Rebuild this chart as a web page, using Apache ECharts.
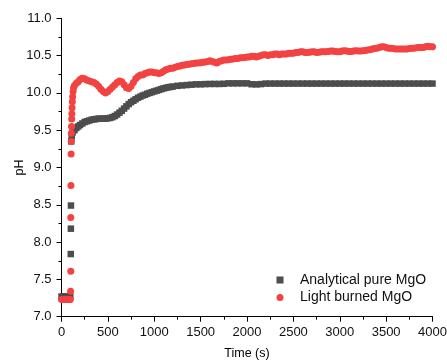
<!DOCTYPE html>
<html><head><meta charset="utf-8">
<script src="https://cdn.jsdelivr.net/npm/echarts@6/dist/echarts.min.js"></script>
<style>html,body{margin:0;padding:0;background:#fff}#c{width:447px;height:360px}</style>
</head><body><div id="c"></div>
<script>
const xTicks = [0,500,1000,1500,2000,2500,3000,3500,4000];
const yTicks = [7.0,7.5,8.0,8.5,9.0,9.5,10.0,10.5,11.0];
const seriesNames = ['Analytical pure MgO','Light burned MgO'];

const pureTime = [0,20,40,60,80,95,100,101,102,105,110,120,140,160,180,200,225,250,275,300,325,350,375,400,425,450,475,500,525,550,575,600,625,650,675,700,725,750,775,800,825,850,875,900,925,950,975,1000,1025,1050,1075,1100,1125,1150,1175,1200,1250,1300,1350,1400,1450,1500,1550,1600,1650,1700,1750,1800,1850,1900,1950,2000,2050,2100,2150,2200,2250,2300,2350,2400,2450,2500,2550,2600,2650,2700,2750,2800,2850,2900,2950,3000,3050,3100,3150,3200,3250,3300,3350,3400,3450,3500,3550,3600,3650,3700,3750,3800,3850,3900,3950,4000];
const pureVals = [7.27,7.27,7.27,7.27,7.27,7.27,7.84,8.18,8.49,9.35,9.42,9.47,9.50,9.53,9.55,9.57,9.59,9.61,9.62,9.63,9.64,9.645,9.65,9.655,9.655,9.655,9.655,9.66,9.665,9.675,9.69,9.71,9.735,9.76,9.79,9.82,9.85,9.875,9.895,9.915,9.935,9.95,9.965,9.975,9.99,10.0,10.01,10.02,10.03,10.04,10.05,10.06,10.068,10.075,10.08,10.085,10.095,10.10,10.105,10.11,10.115,10.115,10.118,10.12,10.12,10.12,10.122,10.128,10.128,10.128,10.128,10.128,10.116,10.114,10.118,10.125,10.125,10.125,10.125,10.125,10.125,10.125,10.125,10.125,10.125,10.125,10.125,10.125,10.125,10.125,10.125,10.125,10.125,10.125,10.125,10.125,10.125,10.125,10.125,10.125,10.125,10.125,10.125,10.125,10.125,10.125,10.125,10.125,10.125,10.125,10.125,10.125];

const burnedTime = [0,20,40,60,80,95,98,100,100,102,104,105,106,108,110,112,114,117,120,125,130,140,160,180,200,225,250,275,300,325,350,375,400,425,450,475,500,525,550,575,600,625,650,675,700,725,750,775,800,825,850,875,900,925,950,975,1000,1025,1050,1075,1100,1125,1150,1175,1200,1225,1250,1275,1300,1325,1350,1375,1400,1425,1450,1475,1500,1525,1550,1575,1600,1625,1650,1675,1700,1725,1750,1775,1800,1825,1850,1875,1900,1925,1950,1975,2000,2025,2050,2075,2100,2125,2150,2175,2200,2225,2250,2275,2300,2325,2350,2375,2400,2425,2450,2475,2500,2525,2550,2575,2600,2625,2650,2675,2700,2725,2750,2775,2800,2825,2850,2875,2900,2925,2950,2975,3000,3025,3050,3075,3100,3125,3150,3175,3200,3225,3250,3275,3300,3325,3350,3375,3400,3425,3450,3475,3500,3525,3550,3575,3600,3625,3650,3675,3700,3725,3750,3775,3800,3825,3850,3875,3900,3925,3950,3975,4000];
const burnedVals = [7.23,7.23,7.23,7.23,7.23,7.23,7.34,7.61,8.33,8.76,9.18,9.35,9.46,9.55,9.65,9.72,9.80,9.88,9.95,10.02,10.07,10.10,10.13,10.15,10.18,10.195,10.19,10.17,10.16,10.15,10.14,10.12,10.09,10.05,10.02,10.0,10.02,10.05,10.08,10.11,10.14,10.16,10.15,10.11,10.07,10.06,10.09,10.14,10.19,10.22,10.24,10.24,10.26,10.27,10.28,10.28,10.27,10.27,10.26,10.27,10.29,10.31,10.32,10.33,10.33,10.345,10.355,10.36,10.37,10.375,10.38,10.385,10.39,10.395,10.40,10.40,10.405,10.41,10.415,10.42,10.43,10.42,10.41,10.40,10.42,10.43,10.44,10.44,10.445,10.45,10.455,10.46,10.46,10.47,10.47,10.475,10.48,10.48,10.49,10.49,10.48,10.49,10.50,10.51,10.51,10.50,10.51,10.51,10.52,10.52,10.51,10.52,10.52,10.52,10.53,10.53,10.53,10.54,10.54,10.55,10.55,10.54,10.54,10.545,10.55,10.55,10.54,10.545,10.55,10.55,10.55,10.555,10.56,10.56,10.555,10.55,10.55,10.56,10.565,10.56,10.555,10.555,10.56,10.565,10.56,10.56,10.565,10.57,10.575,10.58,10.59,10.595,10.60,10.61,10.62,10.62,10.61,10.60,10.60,10.595,10.59,10.59,10.59,10.59,10.59,10.59,10.595,10.60,10.60,10.605,10.61,10.61,10.61,10.62,10.625,10.62,10.62];

const pureData = pureTime.map((t, i) => [t, pureVals[i]]);
const burnedData = burnedTime.map((t, i) => [t, burnedVals[i]]);

const font = 'Liberation Sans, Arial, sans-serif';
const chart = echarts.init(document.getElementById('c'), null, {renderer: 'canvas'});
chart.setOption({
  animation: false,
  backgroundColor: '#fff',
  textStyle: {fontFamily: font},
  grid: {left: 61.5, right: 14.5, top: 18.3, bottom: 43.3, containLabel: false, outerBoundsMode: 'none'},
  xAxis: {
    type: 'value', min: xTicks[0], max: xTicks[xTicks.length-1], interval: xTicks[1]-xTicks[0],
    name: 'Time (s)', nameLocation: 'middle', nameGap: 30, nameMoveOverlap: false,
    nameTextStyle: {fontSize: 12.5, color: '#000', fontFamily: font},
    axisLine: {show: true, lineStyle: {color: '#000', width: 1}},
    axisTick: {show: true, length: 5, lineStyle: {color: '#000'}},
    minorTick: {show: true, splitNumber: 2, length: 3, lineStyle: {color: '#000'}},
    axisLabel: {fontSize: 13, color: '#111', margin: 9, fontFamily: font,
      formatter: v => String(v)},
    splitLine: {show: false}
  },
  yAxis: {
    type: 'value', min: yTicks[0], max: yTicks[yTicks.length-1], interval: 0.5,
    name: 'pH', nameLocation: 'middle', nameGap: 35, nameRotate: 90, nameMoveOverlap: false,
    nameTextStyle: {fontSize: 12.5, color: '#000', fontFamily: font},
    axisLine: {show: true, lineStyle: {color: '#000', width: 1}},
    axisTick: {show: true, length: 5, lineStyle: {color: '#000'}},
    minorTick: {show: true, splitNumber: 2, length: 3, lineStyle: {color: '#000'}},
    axisLabel: {fontSize: 13, color: '#111', margin: 10, fontFamily: font,
      formatter: v => v.toFixed(1)},
    splitLine: {show: false}
  },
  legend: {
    orient: 'vertical', left: 276.5, top: 272, padding: 0, itemWidth: 7, itemHeight: 7, itemGap: 1.5,
    textStyle: {fontSize: 14, lineHeight: 16, color: '#111', fontFamily: font, padding: [0,0,0,11.5]},
    data: [{name: seriesNames[0], icon: 'rect'}, {name: seriesNames[1], icon: 'circle'}]
  },
  series: [
    {name: seriesNames[0], type: 'scatter', symbol: 'rect', symbolSize: 6.5,
     itemStyle: {color: '#4d4d4d', opacity: 1}, data: pureData},
    {name: seriesNames[1], type: 'scatter', symbol: 'circle', symbolSize: 7,
     itemStyle: {color: '#f24242', opacity: 1}, data: burnedData}
  ]
});
</script></body></html>
